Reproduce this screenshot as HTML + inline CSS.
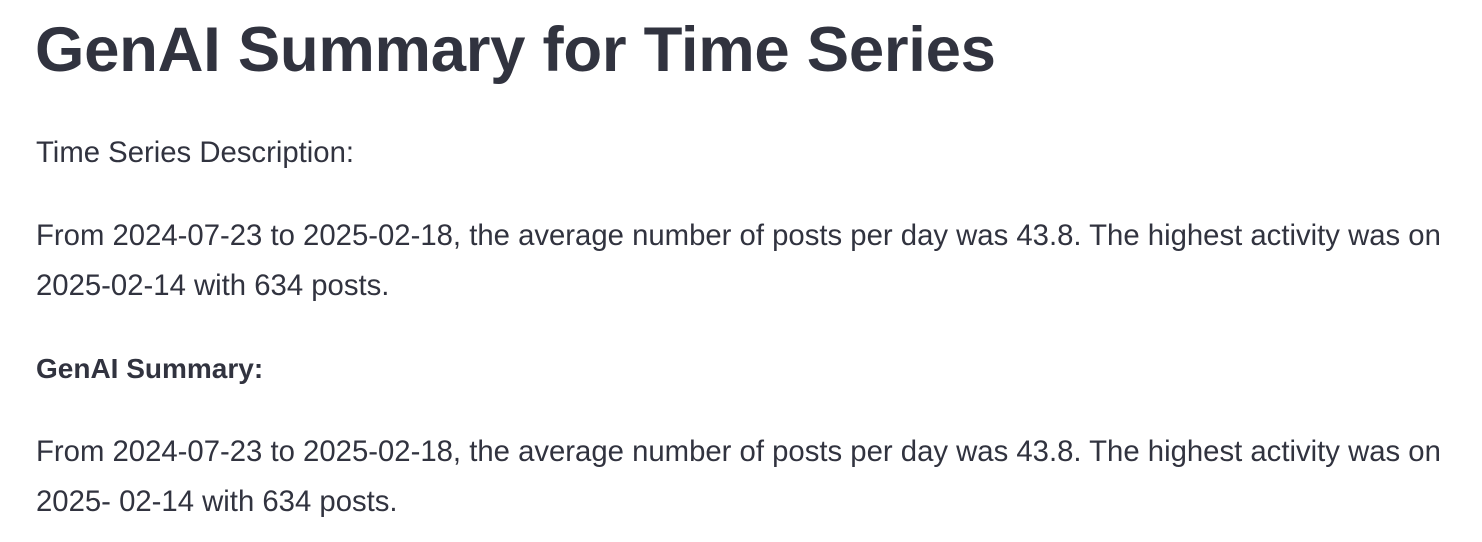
<!DOCTYPE html>
<html>
<head>
<meta charset="utf-8">
<style>
  html,body{margin:0;padding:0;background:#fff;}
  body{width:1482px;height:542px;overflow:hidden;position:relative;color:#31333f;font-family:"Liberation Sans",sans-serif;}
  .l{position:absolute;left:36px;white-space:nowrap;font-size:29.3px;line-height:50px;height:50px;}
  h1{position:absolute;left:35px;top:10px;margin:0;font-size:63.5px;line-height:80px;font-weight:700;letter-spacing:-0.3px;white-space:nowrap;}
</style>
</head>
<body>
<h1>GenAI Summary for Time Series</h1>
<div class="l" style="top:128px">Time Series Description:</div>
<div class="l" style="top:211px">From 2024-07-23 to 2025-02-18, the average number of posts per day was 43.8. The highest activity was on</div>
<div class="l" style="top:261px">2025-02-14 with 634 posts.</div>
<div class="l" style="top:344px;font-weight:700;font-size:28px">GenAI Summary:</div>
<div class="l" style="top:427px">From 2024-07-23 to 2025-02-18, the average number of posts per day was 43.8. The highest activity was on</div>
<div class="l" style="top:477px">2025- 02-14 with 634 posts.</div>
</body>
</html>
